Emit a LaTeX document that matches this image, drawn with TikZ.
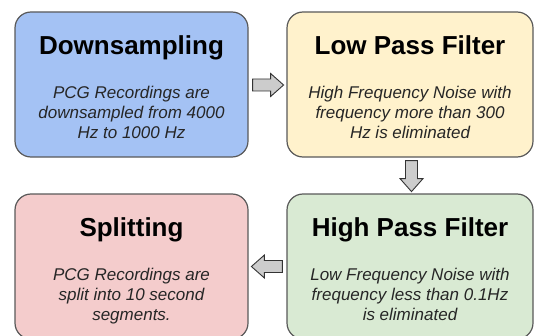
\documentclass[tikz,border=0pt]{standalone}
\usepackage{fontspec}
\setmainfont{Liberation Sans}
\usepackage{tikz}
\usetikzlibrary{positioning, calc}
\definecolor{stepblue}{RGB}{164,194,244}
\definecolor{stepyellow}{RGB}{255,242,204}
\definecolor{stepgreen}{RGB}{217,234,211}
\definecolor{stepred}{RGB}{244,204,204}
\definecolor{edgegray}{RGB}{89,89,89}
\definecolor{arrowgray}{RGB}{204,204,204}

\tikzset{
  stage/.style={draw=edgegray, line width=1.2pt, rectangle, rounded corners=16pt, minimum height=145pt, inner sep=0pt},
  stagetitle/.style={anchor=base, inner sep=0pt, font=\fontsize{26}{30}\selectfont\bfseries},
  stagetext/.style={anchor=north, inner sep=0pt, align=center, text=black!85, font=\fontsize{17}{20}\selectfont\itshape},
  fatarrow/.pic={\draw[fill=arrowgray, draw=black!80, line width=0.9pt, line join=miter] (0,-6) -- (18,-6) -- (18,-11.5) -- (31,0) -- (18,11.5) -- (18,6) -- (0,6) -- cycle;}
}

\begin{document}
\begin{tikzpicture}[x=1pt, y=1pt]
\clip (0,0) rectangle (534,335);

% Downsampling
\node[stage, fill=stepblue, minimum width=233pt] (down) at (131.5,250.5) {};
\node[stagetitle] (downtitle) at ($(down.north)+(0,-43)$) {Downsampling};
\node[stagetext] (downtext) at ($(down.north)+(0,-74.5)$) {PCG Recordings are\\downsampled from 4000\\Hz to 1000 Hz};

% Low pass filter
\node[stage, fill=stepyellow, minimum width=246pt] (lowpass) at (410,250.5) {};
\node[stagetitle] (lowtitle) at ($(lowpass.north)+(0,-43)$) {Low Pass Filter};
\node[stagetext] (lowtext) at ($(lowpass.north)+(0,-74.5)$) {High Frequency Noise with\\frequency more than 300\\Hz is eliminated};

% High pass filter
\node[stage, fill=stepgreen, minimum width=246pt] (highpass) at (410,68.5) {};
\node[stagetitle] (hightitle) at ($(highpass.north)+(0,-43)$) {High Pass Filter};
\node[stagetext] (hightext) at ($(highpass.north)+(0,-74.5)$) {Low Frequency Noise with\\frequency less than 0.1Hz\\is eliminated};

% Splitting
\node[stage, fill=stepred, minimum width=233pt] (split) at (131.5,68.5) {};
\node[stagetitle] (splittitle) at ($(split.north)+(0,-43)$) {Splitting};
\node[stagetext] (splittext) at ($(split.north)+(0,-74.5)$) {PCG Recordings are\\split into 10 second\\segments.};

% Arrows
\pic at ($(down.east)+(4,-0.5)$) {fatarrow};
\pic[rotate=-90] at ($(lowpass.south)+(1.5,-3)$) {fatarrow};
\pic[rotate=180] at ($(highpass.west)+(-4,0)$) {fatarrow};
\end{tikzpicture}
\end{document}
